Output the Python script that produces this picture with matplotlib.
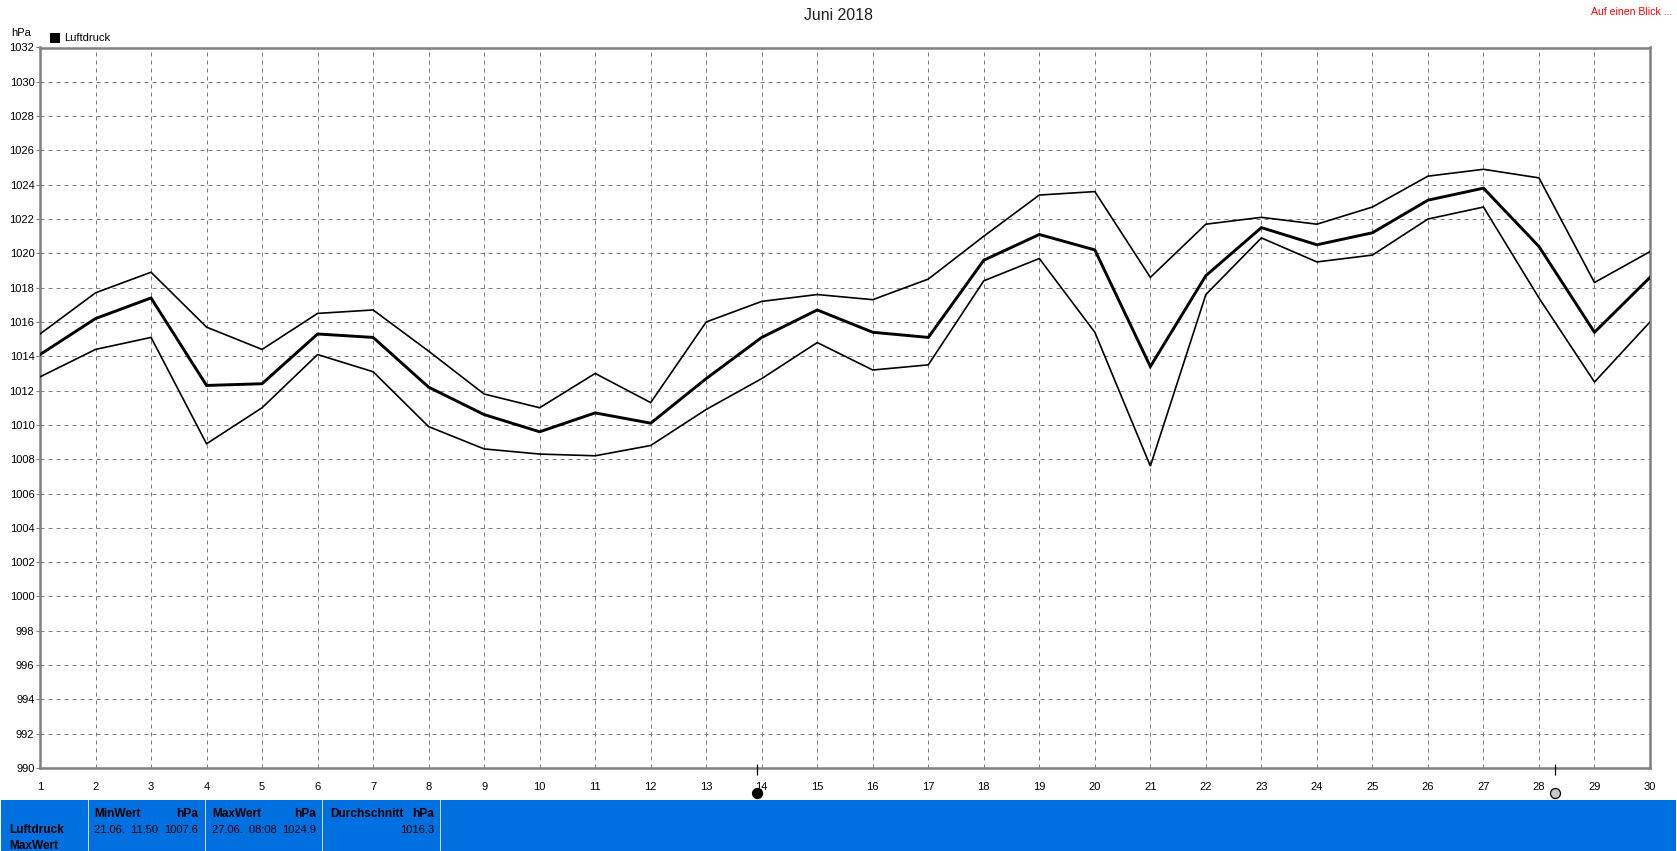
"""Luftdruck Juni 2018: daily max / mean / min with the blue summary strip below."""
import matplotlib
matplotlib.use("Agg")
import matplotlib.pyplot as plt  # noqa: E402
from matplotlib.patches import Rectangle  # noqa: E402

W, H = 1677, 851
plt.rcParams["font.family"] = ["Liberation Sans", "DejaVu Sans"]

days = list(range(1, 31))
p_max = [1015.3, 1017.7, 1018.9, 1015.7, 1014.4, 1016.5, 1016.7, 1014.3, 1011.8, 1011.0,
         1013.0, 1011.3, 1016.0, 1017.2, 1017.6, 1017.3, 1018.5, 1021.0, 1023.4, 1023.6,
         1018.6, 1021.7, 1022.1, 1021.7, 1022.7, 1024.5, 1024.9, 1024.4, 1018.3, 1020.1]
p_avg = [1014.1, 1016.2, 1017.4, 1012.3, 1012.4, 1015.3, 1015.1, 1012.2, 1010.6, 1009.6,
         1010.7, 1010.1, 1012.7, 1015.1, 1016.7, 1015.4, 1015.1, 1019.6, 1021.1, 1020.2,
         1013.4, 1018.7, 1021.5, 1020.5, 1021.2, 1023.1, 1023.8, 1020.4, 1015.4, 1018.6]
p_min = [1012.8, 1014.4, 1015.1, 1008.9, 1011.0, 1014.1, 1013.1, 1009.9, 1008.6, 1008.3,
         1008.2, 1008.8, 1010.9, 1012.7, 1014.8, 1013.2, 1013.5, 1018.4, 1019.7, 1015.4,
         1007.6, 1017.6, 1020.9, 1019.5, 1019.9, 1022.0, 1022.7, 1017.4, 1012.5, 1016.0]
y_ticks = list(range(990, 1033, 2))
new_moon_day = 13.91
full_moon_day = 28.29

GREY = "#808080"
BLUE = "#0070e0"
FS = 8.0
FS_BOLD = 8.6


def fx(px):
    return px / W


def fy(px):
    return 1 - px / H


fig = plt.figure(figsize=(W / 100, H / 100), dpi=100)
ax = fig.add_axes([fx(40), fy(768), fx(1650 - 40), fy(47.5) - fy(768)])

ax.plot(days, p_max, color="black", lw=1.2, solid_joinstyle="miter", zorder=3)
ax.plot(days, p_min, color="black", lw=1.2, solid_joinstyle="miter", zorder=3)
ax.plot(days, p_avg, color="black", lw=2.1, solid_joinstyle="miter", zorder=4)

ax.set_xlim(1, 30)
ax.set_ylim(990, 1032)
ax.set_xticks(days)
ax.set_yticks(y_ticks)
ax.grid(True, color=GREY, ls=(0, (4, 4)), lw=0.72, zorder=1)
ax.set_axisbelow(True)
for s in ax.spines.values():
    s.set_color(GREY)
    s.set_linewidth(1.8)
ax.tick_params(axis="y", length=3, width=0.8, color=GREY, labelsize=FS, pad=1)
ax.tick_params(axis="x", length=0, labelsize=FS, pad=10)

# moon phase markers under the axis, y in axes fractions
xtrans = ax.get_xaxis_transform()
for day, face in [(new_moon_day, "black"), (full_moon_day, "#c8c8c8")]:
    ax.plot([day, day], [0.0056, -0.0097], color="black", lw=0.9, clip_on=False,
            solid_capstyle="butt", transform=xtrans, zorder=5)
    ax.plot([day], [-0.0347], marker="o", ms=7.2, mfc=face, mec="black", mew=0.9,
            clip_on=False, transform=xtrans, zorder=5)

fig.text(fx(838), fy(15), "Juni 2018", ha="center", va="center", fontsize=11.4, color="#202020")
fig.text(fx(1672), fy(12), "Auf einen Blick ...", ha="right", va="center", color="#ff0000", fontsize=7.6)
fig.text(fx(11), fy(33), "hPa", ha="left", va="center", fontsize=FS)
fig.text(fx(64), fy(38), "Luftdruck", ha="left", va="center", fontsize=FS)
fig.add_artist(Rectangle((fx(50), fy(43)), fx(10), fy(33) - fy(43), transform=fig.transFigure,
                         fc="black", ec="none"))

# summary strip
fig.add_artist(Rectangle((fx(1), 0), fx(W - 2), fy(800), transform=fig.transFigure, fc=BLUE, ec="none"))
for px in [88, 205, 322.5, 440.5]:
    fig.add_artist(Rectangle((fx(px - 0.5), 0), fx(1.2), fy(800), transform=fig.transFigure,
                             fc="#d0d8e0", ec="none"))


def strip(px, py, txt, ha="left", bold=False):
    fig.text(fx(px), fy(py), txt, ha=ha, va="center",
             fontsize=FS_BOLD if bold else FS,
             fontweight="bold" if bold else "normal", color="black")


strip(9, 830, "Luftdruck", bold=True)
strip(9, 846, "MaxWert", bold=True)
strip(94, 814, "MinWert", bold=True)
strip(198, 814, "hPa", ha="right", bold=True)
strip(94, 830, "21.06.  11:50")
strip(198, 830, "1007.6", ha="right")
strip(212, 814, "MaxWert", bold=True)
strip(316, 814, "hPa", ha="right", bold=True)
strip(212, 830, "27.06.  08:08")
strip(316, 830, "1024.9", ha="right")
strip(330, 814, "Durchschnitt", bold=True)
strip(434, 814, "hPa", ha="right", bold=True)
strip(434, 830, "1016.3", ha="right")

fig.savefig("out.png", dpi=100)
